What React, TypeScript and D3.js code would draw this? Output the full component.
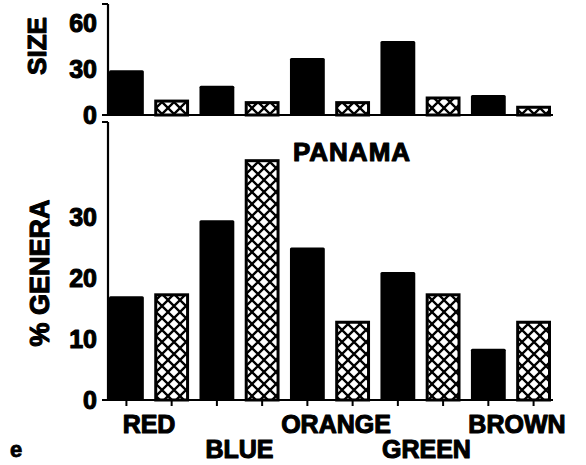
import React from 'react';
import * as d3 from 'd3';

// values
const categories = ['RED', 'BLUE', 'ORANGE', 'GREEN', 'BROWN'];
const sizeSolid = [29, 19, 37, 48, 13];
const sizeHatched = [10, 9, 9, 12, 6];
const generaSolid = [17, 29.5, 25, 21, 8.4];
const generaHatched = [17.5, 39.5, 13, 17.5, 13];
const sizeTicks = [0, 30, 60];
const generaTicks = [0, 10, 20, 30];
const title = 'PANAMA';
const panelLetter = 'e';

const W = 586, H = 465;
const FONT = '"Liberation Sans", Arial, sans-serif';
const axisX = 108;
const heavy = { fontFamily: FONT, fontWeight: 'bold', stroke: '#000', strokeWidth: 1.1, strokeLinejoin: 'round' as const };

// one band per bar: solid then hatched for every colour
const barKeys = categories.flatMap((c) => [c + '-s', c + '-h']);

const x = d3.scaleBand<string>()
  .domain(barKeys)
  .range([109, 551])
  .paddingInner(0.23)
  .paddingOuter(0);

const ySize = d3.scaleLinear().domain([0, 72]).range([115, 4]);
const yGen = d3.scaleLinear().domain([0, 45.6]).range([400, 122]);

function Bars({ solid, hatched, y }: { solid: number[]; hatched: number[]; y: d3.ScaleLinear<number, number> }) {
  const bw = x.bandwidth();
  const base = y(0);
  return (
    <g>
      {categories.map((c, i) => {
        const xs = x(c + '-s') as number;
        const xh = x(c + '-h') as number;
        const ys = y(solid[i]);
        const yh = y(hatched[i]);
        return (
          <g key={c}>
            <rect x={xs} y={ys} width={bw} height={base - ys} fill="#000" rx={1.5} />
            <rect x={xh + 1.5} y={yh + 1.5} width={bw - 3} height={base - yh - 1.5}
              fill="url(#xhatch)" stroke="#000" strokeWidth={3} />
          </g>
        );
      })}
    </g>
  );
}

function YAxis({ y, ticks }: { y: d3.ScaleLinear<number, number>; ticks: number[] }) {
  const [lo, hi] = y.range();
  return (
    <g>
      <line x1={axisX} x2={axisX} y1={hi} y2={lo} stroke="#000" strokeWidth={2.2} />
      <line x1={axisX - 6} x2={axisX} y1={hi} y2={hi} stroke="#000" strokeWidth={2} />
      <line x1={axisX - 6} x2={553} y1={lo} y2={lo} stroke="#000" strokeWidth={2} />
      {ticks.map((t) => (
        <text key={t} x={97} y={y(t)} dy="0.36em" textAnchor="end" fontSize={25} {...heavy}>{t}</text>
      ))}
    </g>
  );
}

export default function App() {
  const bw = x.bandwidth();
  return (
    <svg width={W} height={H} style={{ position: 'absolute', left: 0, top: 0, background: '#fff' }}>
      <defs>
        <pattern id="xhatch" patternUnits="userSpaceOnUse" width={12} height={12}>
          <rect width={12} height={12} fill="#fff" />
          <path d="M-3,-3L15,15M15,-3L-3,15" stroke="#000" strokeWidth={2.3} />
        </pattern>
      </defs>

      {/* top panel: size */}
      <Bars solid={sizeSolid} hatched={sizeHatched} y={ySize} />
      <YAxis y={ySize} ticks={sizeTicks} />
      <text transform={`translate(46,46) rotate(-90)`} textAnchor="middle" fontSize={26} {...heavy}>SIZE</text>

      {/* bottom panel: % genera */}
      <Bars solid={generaSolid} hatched={generaHatched} y={yGen} />
      <YAxis y={yGen} ticks={generaTicks} />
      <text transform={`translate(49,273) rotate(-90)`} textAnchor="middle" fontSize={27} {...heavy}>% GENERA</text>

      {barKeys.map((k) => (
        <line key={k} x1={(x(k) as number) + bw / 2} x2={(x(k) as number) + bw / 2}
          y1={yGen(0)} y2={yGen(0) + 6} stroke="#000" strokeWidth={2} />
      ))}

      {categories.map((c, i) => {
        const cx = ((x(c + '-s') as number) + (x(c + '-h') as number) + bw) / 2;
        return (
          <text key={c} x={cx + (i >= 2 ? 6 : 0)} y={i % 2 === 0 ? 433 : 458} textAnchor="middle"
            fontSize={25} {...heavy}>{c}</text>
        );
      })}

      <text x={352} y={161} textAnchor="middle" fontSize={26} letterSpacing={1} {...heavy}>{title}</text>
      <text x={10} y={457} fontSize={22} {...heavy} strokeWidth={0.8}>{panelLetter}</text>
    </svg>
  );
}
